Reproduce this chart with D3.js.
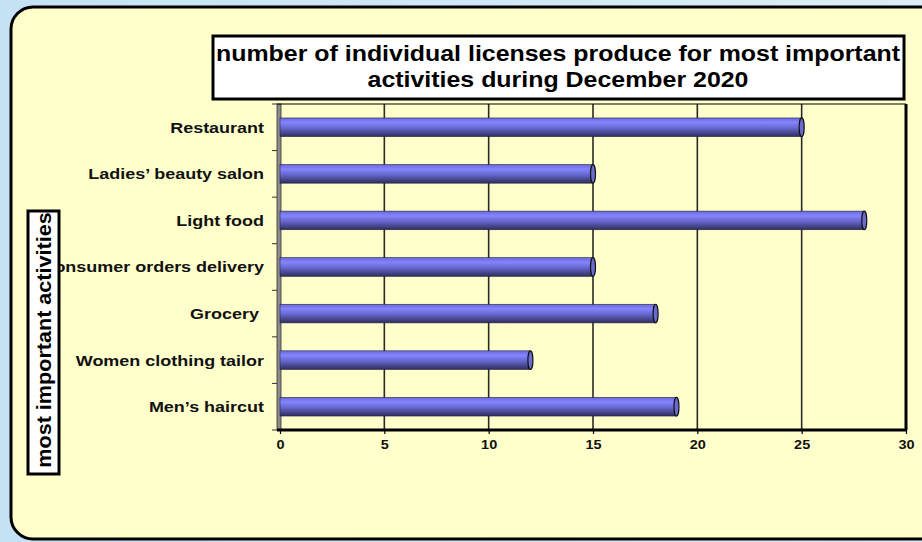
<!DOCTYPE html>
<html>
<head>
<meta charset="utf-8">
<script src="https://cdn.jsdelivr.net/npm/d3@7"></script>
<style>
  body { margin: 0; padding: 0; overflow: hidden; }
  svg { display: block; font-family: Arial, "Liberation Sans", sans-serif; }
  text { white-space: pre; }
</style>
</head>
<body>
<div id="chart"></div>
<script>
var svgWidth = 922;
var svgHeight = 542;

// data
var activities = ["Restaurant", "Ladies\u2019 beauty salon", "Light food", "Consumer orders delivery",
  "Grocery ", "Women clothing tailor", "Men\u2019s haircut"];
var licenses = [25, 15, 28, 15, 18, 12, 19];
var xTicks = [0, 5, 10, 15, 20, 25, 30];
var titleLines = ["number of individual licenses produce for most important", "activities during December 2020"];
var yTitle = "most important activities";

var plot = { left: 280, right: 906, top: 104, bottom: 430 };
// the reference text looks stretched sideways
var stretch = 1.16;

var svg = d3.select("#chart")
  .append("svg")
  .attr("width", svgWidth)
  .attr("height", svgHeight);

var defs = svg.append("defs");

var bg = defs.append("linearGradient")
  .attr("id", "bg").attr("x1", 0).attr("y1", 0).attr("x2", 1).attr("y2", 0);
bg.append("stop").attr("offset", "0%").attr("stop-color", "#c4e2f4");
bg.append("stop").attr("offset", "100%").attr("stop-color", "#dceef8");

var barGrad = defs.append("linearGradient")
  .attr("id", "bar").attr("x1", 0).attr("y1", 0).attr("x2", 0).attr("y2", 1);
barGrad.append("stop").attr("offset", "0%").attr("stop-color", "#6a6ad8");
barGrad.append("stop").attr("offset", "25%").attr("stop-color", "#8484ff");
barGrad.append("stop").attr("offset", "55%").attr("stop-color", "#6666cc");
barGrad.append("stop").attr("offset", "100%").attr("stop-color", "#2e2e5c");

// outer background + panel
svg.append("rect")
  .attr("width", svgWidth).attr("height", svgHeight)
  .attr("fill", "url(#bg)");

svg.append("rect")
  .attr("x", 11).attr("y", 7)
  .attr("width", 940).attr("height", 532)
  .attr("rx", 22).attr("ry", 22)
  .attr("fill", "#ffffcc")
  .attr("stroke", "#000")
  .attr("stroke-width", 3);

// scales
var x = d3.scaleLinear()
  .domain([0, 30])
  .range([plot.left, plot.right]);

var y = d3.scaleBand()
  .domain(activities)
  .range([plot.top, plot.bottom])
  .paddingInner(0.6)
  .paddingOuter(0.3);

var chartGroup = svg.append("g");

// left wall (3d look)
chartGroup.append("rect")
  .attr("x", plot.left - 3).attr("y", plot.top)
  .attr("width", 4).attr("height", plot.bottom - plot.top)
  .attr("fill", "#8c8c8c")
  .attr("stroke", "#333").attr("stroke-width", 0.8);

// gridlines
chartGroup.append("g")
  .selectAll("line")
  .data(xTicks.slice(1, -1))
  .enter()
  .append("line")
  .attr("x1", d => x(d)).attr("x2", d => x(d))
  .attr("y1", plot.top).attr("y2", plot.bottom)
  .attr("stroke", "#2a2a2a")
  .attr("stroke-width", 1.6);

// frame: top thin, right thick
chartGroup.append("line")
  .attr("x1", plot.left - 3).attr("x2", plot.right)
  .attr("y1", plot.top).attr("y2", plot.top)
  .attr("stroke", "#000").attr("stroke-width", 1.2);
chartGroup.append("line")
  .attr("x1", plot.right).attr("x2", plot.right)
  .attr("y1", plot.top).attr("y2", plot.bottom)
  .attr("stroke", "#000").attr("stroke-width", 3);

// bars as cylinders
var bars = chartGroup.append("g")
  .selectAll("g")
  .data(activities)
  .enter()
  .append("g");

bars.append("rect")
  .attr("x", x(0))
  .attr("y", d => y(d))
  .attr("width", (d, i) => x(licenses[i]) - x(0))
  .attr("height", y.bandwidth())
  .attr("fill", "url(#bar)")
  .attr("stroke", "#222244")
  .attr("stroke-width", 0.6);

bars.append("ellipse")
  .attr("cx", (d, i) => x(licenses[i]))
  .attr("cy", d => y(d) + y.bandwidth() / 2)
  .attr("rx", 2.5)
  .attr("ry", y.bandwidth() / 2)
  .attr("fill", "#6a6ad0")
  .attr("stroke", "#111")
  .attr("stroke-width", 1.2);

// x axis
var bottomAxis = d3.axisBottom(x)
  .tickValues(xTicks)
  .tickSize(4)
  .tickPadding(6);

var xAxis = chartGroup.append("g")
  .attr("transform", `translate(0, ${plot.bottom})`)
  .call(bottomAxis);
xAxis.select(".domain").remove();
xAxis.append("line")
  .attr("x1", plot.left - 3).attr("x2", plot.right + 1)
  .attr("y1", 0).attr("y2", 0)
  .attr("stroke", "#000").attr("stroke-width", 3);
xAxis.selectAll(".tick line").attr("stroke", "#000").attr("stroke-width", 1.2);
xAxis.selectAll("text")
  .attr("fill", "#111")
  .attr("transform", `scale(${stretch},1)`)
  .style("font-size", "12.5px")
  .style("font-weight", "bold")
  .style("font-family", "Arial, 'Liberation Sans', sans-serif");

// y axis: ticks on category boundaries
var yBounds = d3.range(activities.length + 1).map(i => plot.top + i * y.step());
chartGroup.append("g")
  .selectAll("line")
  .data(yBounds)
  .enter()
  .append("line")
  .attr("x1", plot.left - 8).attr("x2", plot.left - 3)
  .attr("y1", d => d).attr("y2", d => d)
  .attr("stroke", "#333").attr("stroke-width", 1);

chartGroup.append("g")
  .selectAll("text")
  .data(activities)
  .enter()
  .append("text")
  .attr("transform", d => `translate(264, ${y(d) + y.bandwidth() / 2}) scale(${stretch},1)`)
  .attr("dy", "0.35em")
  .attr("text-anchor", "end")
  .style("font-size", "15.5px")
  .style("font-weight", "bold")
  .attr("fill", "#111")
  .text(d => d);

// title box
svg.append("rect")
  .attr("x", 213).attr("y", 36)
  .attr("width", 691).attr("height", 63)
  .attr("fill", "#fff")
  .attr("stroke", "#000")
  .attr("stroke-width", 3);

svg.append("g")
  .selectAll("text")
  .data(titleLines)
  .enter()
  .append("text")
  .attr("transform", (d, i) => `translate(558, ${61 + i * 26}) scale(${stretch},1)`)
  .attr("text-anchor", "middle")
  .style("font-size", "21.5px")
  .style("font-weight", "bold")
  .attr("fill", "#000")
  .text(d => d);

// y title box
svg.append("rect")
  .attr("x", 28).attr("y", 211)
  .attr("width", 31).attr("height", 263)
  .attr("fill", "#fff")
  .attr("stroke", "#000")
  .attr("stroke-width", 3);

svg.append("text")
  .attr("transform", "translate(51, 340) rotate(-90) scale(1.08,1)")
  .attr("text-anchor", "middle")
  .style("font-size", "20px")
  .style("font-weight", "bold")
  .attr("fill", "#000")
  .text(yTitle);
</script>
</body>
</html>
